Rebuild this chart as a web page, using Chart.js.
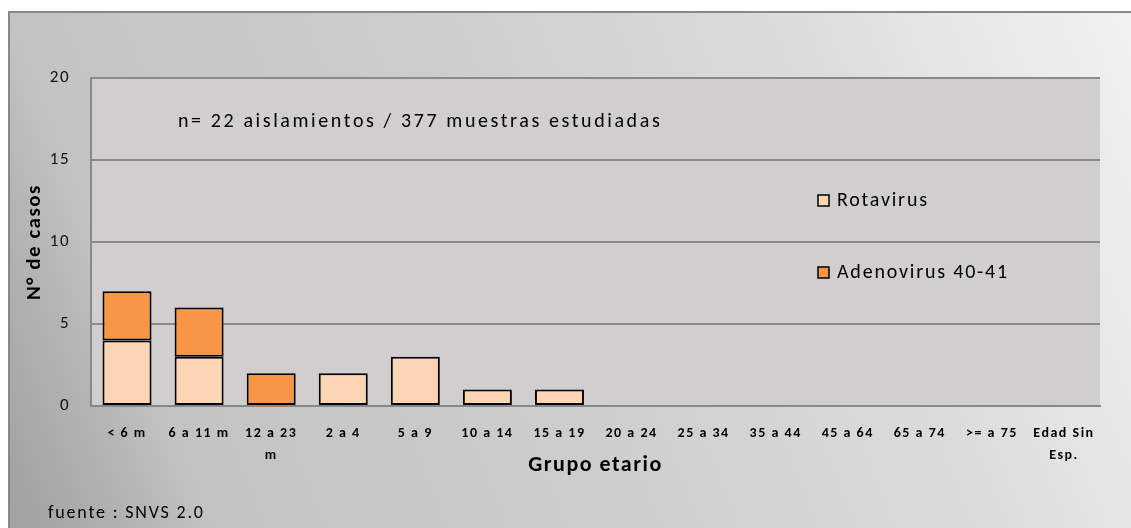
<!DOCTYPE html>
<html>
<head>
<meta charset="utf-8">
<script src="https://cdn.jsdelivr.net/npm/chart.js@4/dist/chart.umd.min.js"></script>
<style>
  html, body { margin: 0; padding: 0; background: #fff; }
  #wrap { width: 1131px; height: 528px; }
</style>
</head>
<body>
<div id="wrap"><canvas id="chart" width="1131" height="528"></canvas></div>
<script>
// Grupo etario
const categories = [
  "< 6 m", "6 a 11 m", ["12 a 23", "m"], "2 a 4", "5 a 9", "10 a 14", "15 a 19",
  "20 a 24", "25 a 34", "35 a 44", "45 a 64", "65 a 74", ">= a 75", ["Edad Sin", "Esp."]
];
const rotavirus  = [4, 3, 0, 2, 3, 1, 1, 0, 0, 0, 0, 0, 0, 0];
const adenovirus = [3, 3, 2, 0, 0, 0, 0, 0, 0, 0, 0, 0, 0, 0];
const yTicks = [0, 5, 10, 15, 20];

const FONT = "Carlito, Lato, 'Open Sans', sans-serif";

// excel spaces its letters out a bit, so do the same everywhere
const spacing = {
  id: "spacing",
  beforeLayout(chart) { chart.ctx.letterSpacing = "1.5px"; },
  beforeDraw(chart) { chart.ctx.letterSpacing = "1.5px"; }
};

// background, frame and plot fill
const backdrop = {
  id: "backdrop",
  beforeDraw(chart) {
    const { ctx, width, height, chartArea: a } = chart;
    ctx.save();
    ctx.fillStyle = "#fff";
    ctx.fillRect(0, 0, width, height);
    let g = ctx.createLinearGradient(0, 528, 1155, 66);
    g.addColorStop(0, "#a0a0a0");
    g.addColorStop(0.03, "#a4a4a4");
    g.addColorStop(0.11, "#b5b5b5");
    g.addColorStop(0.16, "#c3c3c3");
    g.addColorStop(0.46, "#cdcdcd");
    g.addColorStop(0.75, "#dcdcdc");
    g.addColorStop(0.85, "#e6e6e6");
    g.addColorStop(1, "#f1f1f1");
    ctx.fillStyle = g;
    ctx.fillRect(9, 12, width, height);
    ctx.strokeStyle = "#888";
    ctx.lineWidth = 2;
    ctx.strokeRect(9, 12, width + 10, height + 10);
    ctx.fillStyle = "#d0cecf";
    ctx.fillRect(a.left, a.top, a.right - a.left, a.bottom - a.top);
    ctx.restore();
  }
};

// legend and notes
const notes = {
  id: "notes",
  afterDraw(chart) {
    const { ctx, chartArea: a } = chart;
    ctx.save();
    ctx.fillStyle = "#000";
    ctx.textBaseline = "middle";
    ctx.font = "20px " + FONT;
    ctx.letterSpacing = "2.6px";
    ctx.textAlign = "left";
    ctx.fillText("n= 22 aislamientos / 377 muestras estudiadas", a.left + 87, a.top + 44);

    ctx.font = "20px " + FONT;
    ctx.letterSpacing = "1.8px";
    const ys = [a.top + 123, a.top + 195];
    chart.data.datasets.forEach((ds, i) => {
      const x = a.left + 727, y = ys[i];
      ctx.fillStyle = ds.backgroundColor;
      ctx.fillRect(x, y - 6, 11, 11);
      ctx.strokeStyle = "#000";
      ctx.lineWidth = 1.5;
      ctx.strokeRect(x, y - 6, 11, 11);
      ctx.fillStyle = "#000";
      ctx.fillText(ds.label, x + 19, y);
    });

    ctx.font = "18px " + FONT;
    ctx.letterSpacing = "1.8px";
    ctx.fillText("fuente : SNVS 2.0", 48, 513);
    ctx.restore();
  }
};

new Chart(document.getElementById("chart"), {
  type: "bar",
  data: {
    labels: categories,
    datasets: [
      {
        label: "Rotavirus",
        data: rotavirus,
        backgroundColor: "#fcd5b5",
        borderColor: "#000",
        borderWidth: (c) => (c.raw === 0 ? 0 : 2),
        borderSkipped: false
      },
      {
        label: "Adenovirus 40-41",
        data: adenovirus,
        backgroundColor: "#f79646",
        borderColor: "#000",
        borderWidth: (c) => (c.raw === 0 ? 0 : 2),
        borderSkipped: false
      }
    ]
  },
  options: {
    responsive: false,
    animation: false,
    devicePixelRatio: 1,
    layout: { padding: { left: 0, top: 78, right: 31, bottom: 0 } },
    datasets: { bar: { categoryPercentage: 1, barPercentage: 0.68 } },
    plugins: {
      legend: { display: false },
      tooltip: { enabled: false }
    },
    scales: {
      x: {
        stacked: true,
        afterFit(s) { s.height = 122; },
        grid: { display: false },
        border: { color: "#888", width: 2 },
        ticks: {
          color: "#000",
          font: { family: FONT, size: 14, weight: "bold", lineHeight: 1.6 },
          padding: 8,
          maxRotation: 0,
          autoSkip: false
        },
        title: {
          display: true,
          text: "Grupo etario",
          color: "#000",
          font: { family: FONT, size: 22, weight: "bold" },
          padding: { top: 0, bottom: 49 }
        }
      },
      y: {
        stacked: true,
        min: 0,
        max: 20,
        afterFit(s) { s.width = 91; },
        afterBuildTicks(s) { s.ticks = yTicks.map((v) => ({ value: v })); },
        grid: { color: "#8a8a8a", lineWidth: 2, drawTicks: false },
        border: { color: "#888", width: 2 },
        ticks: {
          color: "#111",
          font: { family: FONT, size: 17 },
          padding: 21
        },
        title: {
          display: true,
          text: "N° de casos",
          color: "#000",
          font: { family: FONT, size: 21, weight: "bold" },
          padding: { top: 22, bottom: 0 }
        }
      }
    }
  },
  plugins: [spacing, backdrop, notes]
});
</script>
</body>
</html>
